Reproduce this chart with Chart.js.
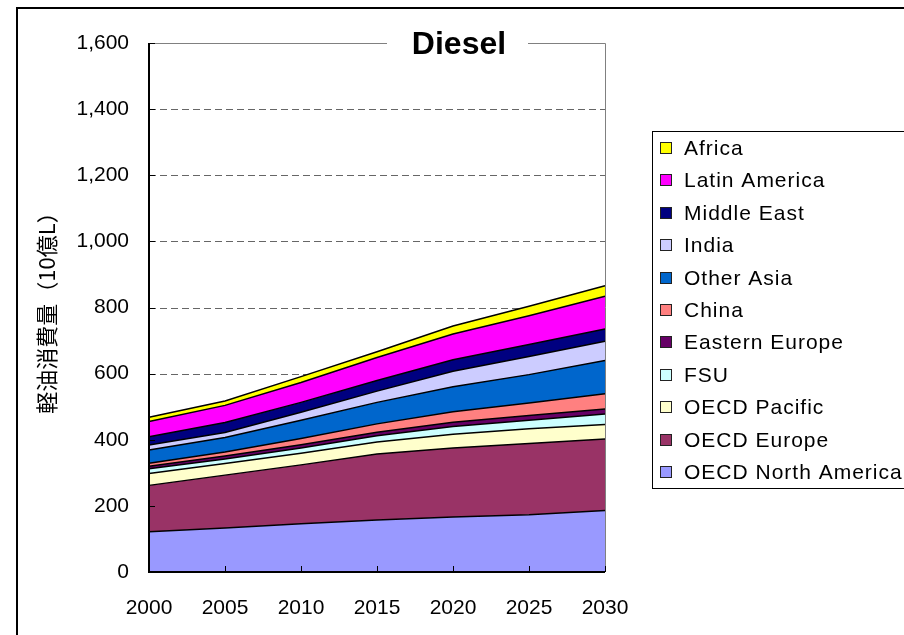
<!DOCTYPE html>
<html><head><meta charset="utf-8">
<script src="https://cdn.jsdelivr.net/npm/chart.js@4/dist/chart.umd.min.js"></script>
<style>html,body{margin:0;padding:0;background:#fff;overflow:hidden}canvas{display:block}</style>
</head><body>
<canvas id="c" width="904" height="635"></canvas>
<script>
const years = ['2000','2005','2010','2015','2020','2025','2030'];
const oecdNorthAmerica = [122, 133, 146, 157, 166, 173, 186];
const oecdEurope       = [140, 160, 178, 200, 209, 216, 216];
const oecdPacific      = [36, 35, 35, 36, 42, 44, 44];
const fsu              = [14, 14, 16, 19, 23, 26, 32];
const easternEurope    = [8, 9, 10, 11, 13, 14, 15];
const china            = [9, 12, 19, 25, 32, 38, 46];
const otherAsia        = [40, 44, 55, 65, 75, 86, 101];
const india            = [15, 15, 24, 34, 47, 55, 58];
const middleEast       = [25, 30, 30, 32, 35, 36, 37];
const latinAmerica     = [46, 52, 60, 70, 78, 87, 99];
const africa           = [13, 13, 18, 17, 24, 29, 32];
const yTickValues = [0, 200, 400, 600, 800, 1000, 1200, 1400, 1600];

const seriesNames = ['OECD North America','OECD Europe','OECD Pacific','FSU','Eastern Europe','China','Other Asia','India','Middle East','Latin America','Africa'];
const seriesData = [oecdNorthAmerica, oecdEurope, oecdPacific, fsu, easternEurope, china, otherAsia, india, middleEast, latinAmerica, africa];
const seriesColors = ['#9999FF','#993366','#FFFFCC','#CCFFFF','#660066','#FF8080','#0066CC','#CCCCFF','#000080','#FF00FF','#FFFF00'];

const datasets = seriesNames.map((n, i) => ({
  label: n,
  data: seriesData[i],
  backgroundColor: seriesColors[i],
  borderColor: '#000',
  borderWidth: 1.5,
  pointRadius: 0,
  tension: 0,
  fill: i === 0 ? 'origin' : '-1'
}));

const FONT = 'Liberation Sans, Arial, sans-serif';

const decor = {
  id: 'decor',
  beforeDraw(chart) {
    const ctx = chart.ctx;
    ctx.save();
    ctx.fillStyle = '#fff';
    ctx.fillRect(0, 0, chart.width, chart.height);
    ctx.strokeStyle = '#000';
    ctx.lineWidth = 2;
    ctx.strokeRect(17, 8, 1000, 1000);
    ctx.restore();
  },
  beforeDatasetsDraw(chart) {
    const ctx = chart.ctx, ys = chart.scales.y, a = chart.chartArea;
    ctx.save();
    ctx.strokeStyle = '#666';
    ctx.lineWidth = 1;
    ctx.setLineDash([7, 4]);
    yTickValues.forEach(v => {
      if (v === 0 || v === 1600) return;
      const y = Math.round(ys.getPixelForValue(v)) + 0.5;
      ctx.beginPath(); ctx.moveTo(a.left, y); ctx.lineTo(a.right, y); ctx.stroke();
    });
    ctx.restore();
  },
  afterDatasetsDraw(chart) {
    const ctx = chart.ctx, ys = chart.scales.y, xs = chart.scales.x, a = chart.chartArea;
    ctx.save();
    ctx.strokeStyle = '#808080';
    ctx.lineWidth = 1;
    ctx.beginPath();
    ctx.moveTo(a.left, Math.round(a.top) + 0.5);
    ctx.lineTo(Math.round(a.right) + 0.5, Math.round(a.top) + 0.5);
    ctx.lineTo(Math.round(a.right) + 0.5, a.bottom);
    ctx.stroke();
    ctx.strokeStyle = '#000';
    ctx.lineWidth = 1;
    yTickValues.forEach(v => {
      const y = Math.round(ys.getPixelForValue(v)) + 0.5;
      ctx.beginPath(); ctx.moveTo(a.left, y); ctx.lineTo(a.left + 6, y); ctx.stroke();
    });
    years.forEach((yr, i) => {
      const x = Math.round(xs.getPixelForValue(i)) + 0.5;
      ctx.beginPath(); ctx.moveTo(x, a.bottom); ctx.lineTo(x, a.bottom - 6); ctx.stroke();
    });
    ctx.lineWidth = 2;
    ctx.beginPath();
    ctx.moveTo(a.left, a.top); ctx.lineTo(a.left, a.bottom); ctx.lineTo(a.right, a.bottom);
    ctx.stroke();
    // title
    ctx.fillStyle = '#fff';
    ctx.fillRect(387, 26, 141, 36);
    ctx.fillStyle = '#000';
    ctx.font = 'bold 32px ' + FONT;
    ctx.textAlign = 'center';
    ctx.textBaseline = 'middle';
    ctx.fillText('Diesel', 459, 45);
    // legend
    ctx.strokeStyle = '#000';
    ctx.lineWidth = 1;
    ctx.strokeRect(652.5, 131.5, 300, 357);
    ctx.font = '21px ' + FONT;
    ctx.textAlign = 'left';
    try { ctx.letterSpacing = '1px'; } catch (e) {}
    const ds = chart.data.datasets.slice().reverse();
    ds.forEach((d, i) => {
      const cy = Math.round(148 + i * 32.4);
      ctx.fillStyle = d.backgroundColor;
      ctx.fillRect(660, cy - 6, 12, 12);
      ctx.strokeStyle = '#222';
      ctx.strokeRect(660.5, cy - 5.5, 11, 11);
      ctx.fillStyle = '#000';
      ctx.fillText(d.label, 684, cy + 1);
    });
    ctx.restore();
  }
};

new Chart(document.getElementById('c'), {
  type: 'line',
  data: { labels: years, datasets },
  plugins: [decor],
  options: {
    responsive: false,
    animation: false,
    layout: { padding: { left: 0, right: 299, top: 43, bottom: 0 } },
    plugins: { legend: { display: false }, tooltip: { enabled: false } },
    scales: {
      x: {
        type: 'category',
        offset: false,
        grid: { display: false, drawTicks: false },
        border: { display: false },
        ticks: { padding: 24, color: '#000', font: { family: FONT, size: 21 }, maxRotation: 0, autoSkip: false },
        afterFit(s) { s.height = 63; }
      },
      y: {
        stacked: true,
        min: 0, max: 1600,
        grid: { display: false, drawTicks: false },
        border: { display: false },
        ticks: { stepSize: 200, padding: 20, color: '#000', font: { family: FONT, size: 21 },
                 callback: v => Number(v).toLocaleString('en-US') },
        title: { display: true, text: '軽油消費量（10億L）', color: '#000',
                 font: { family: 'Noto Sans CJK JP', size: 22 }, padding: { top: 33, bottom: 0 } },
        afterFit(s) { s.width = 149; }
      }
    }
  }
});
</script>
</body></html>
